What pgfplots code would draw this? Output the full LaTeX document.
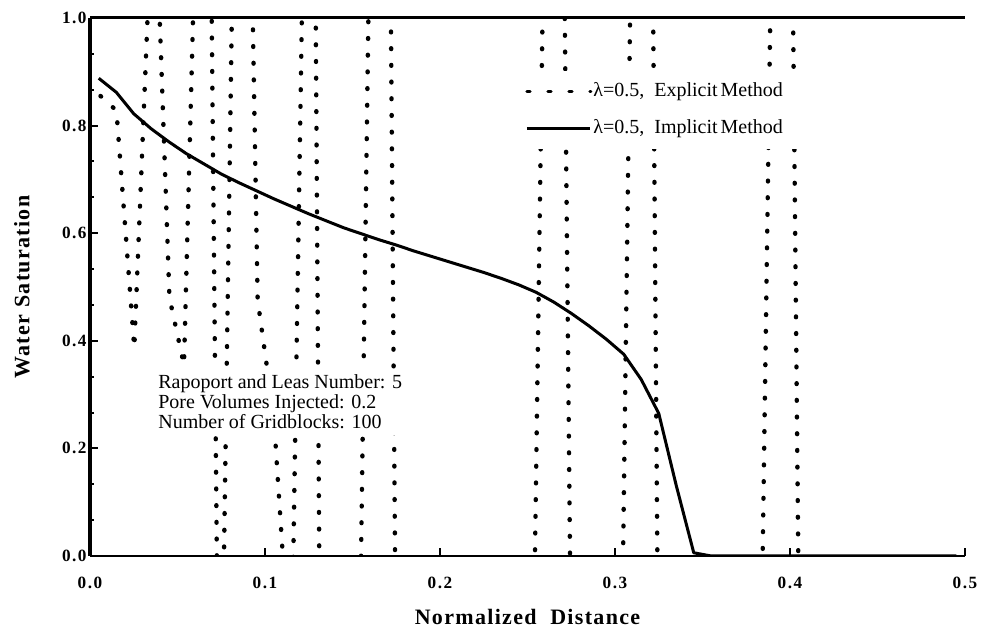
\documentclass[border=0pt]{standalone}
\usepackage{fontspec}
\setmainfont{Liberation Serif}
\newfontfamily\tickfont[LetterSpace=9]{Liberation Serif}
\newfontfamily\labelfont[LetterSpace=6]{Liberation Serif}
\usepackage{pgfplots}
\pgfplotsset{compat=1.18}

\begin{document}
\begin{tikzpicture}
\useasboundingbox (0bp,0bp) rectangle (491.5bp,317bp);
\begin{axis}[
  name=ax,
  at={(45bp,39bp)}, anchor=south west,
  scale only axis, width=437.5bp, height=269bp,
  xmin=0, xmax=0.5, ymin=0, ymax=1,
  axis line style={draw=none},
  xtick={0,0.1,0.2,0.3,0.4,0.5},
  xticklabels={0.0,0.1,0.2,0.3,0.4,0.5},
  ytick={0,0.2,0.4,0.6,0.8,1.0},
  yticklabels={0.0,0.2,0.4,0.6,0.8,1.0},
  xtick pos=left, ytick pos=left,
  tick align=inside,
  major tick length=4bp,
  minor tick length=2bp,
  minor y tick num=2,
  tick style={black, line width=1bp},
  xticklabel style={font=\tickfont\bfseries\fontsize{8.6bp}{10bp}\selectfont,
    anchor=base, inner sep=0pt, yshift=-16.5bp},
  yticklabel style={font=\tickfont\bfseries\fontsize{8.6bp}{10bp}\selectfont,
    anchor=east, inner sep=0pt, xshift=-1.5bp},
  xlabel={Normalized\ \ Distance},
  ylabel={Water Saturation},
  xlabel style={font=\labelfont\bfseries\fontsize{11bp}{13bp}\selectfont,
    at={(axis description cs:0.5,-0.128)}, anchor=base},
  ylabel style={font=\labelfont\bfseries\fontsize{11bp}{13bp}\selectfont,
    at={(axis description cs:-0.0777,0.5)}, anchor=center},
  legend style={draw=none, fill=white,
    at={(axis cs:0.2457,0.903)}, anchor=north west,
    inner xsep=2.5bp, inner ysep=5bp, row sep=8bp,
    font=\fontsize{10bp}{11bp}\selectfont,
    nodes={inner xsep=0.5bp, inner ysep=1bp}},
  legend cell align=left,
  legend image code/.code={\draw[#1] (0bp,0bp) -- (31.5bp,0bp);},
]

% explicit scheme: oscillating saturation profile
\addplot[black, line width=2.2bp, line cap=round, dash pattern=on 0.4bp off 7.95bp,
  legend image code/.code={\draw[black, line width=1.5bp, dash pattern=on 1.6bp off 8.9bp] (0bp,0bp) -- (32bp,0bp);}]
coordinates {
(0.0060,0.855) (0.0151,0.828) (0.0253,0.387) (0.0366,1.30) (0.0454,0.48)
(0.0537,0.355) (0.0667,1.97) (0.0741,-0.55) (0.0865,2.22) (0.0958,0.476)
(0.1050,0.26) (0.1150,-0.24) (0.1267,2.15) (0.1320,-0.5) (0.1528,-0.5)
(0.1673,2.97) (0.1755,-0.5) (0.2521,-0.5) (0.2661,2.74) (0.2758,-0.5)
(0.3026,-0.5) (0.3169,3.06) (0.3254,-0.5) (0.3822,-0.5) (0.3965,2.79)
(0.4062,-0.5)
};
\addlegendentry{λ=0.5,\ \ Explicit\hspace{0.15em}Method\hspace*{12bp}}

% implicit scheme: smooth saturation profile
\addplot[black, line width=1.5bp, line join=round] coordinates {
(0.005,0.888) (0.015,0.862) (0.025,0.822) (0.035,0.794) (0.045,0.770)
(0.055,0.748) (0.065,0.729) (0.075,0.710) (0.085,0.694) (0.095,0.679)
(0.105,0.664) (0.115,0.650) (0.125,0.636) (0.135,0.623) (0.145,0.610)
(0.155,0.599) (0.165,0.588) (0.175,0.578) (0.185,0.567) (0.195,0.557)
(0.205,0.547) (0.215,0.537) (0.225,0.527) (0.235,0.516) (0.245,0.504)
(0.255,0.490) (0.265,0.472) (0.275,0.451) (0.285,0.428) (0.295,0.403)
(0.305,0.375) (0.315,0.328) (0.325,0.265) (0.335,0.131) (0.345,0.006)
(0.355,0.0) (0.375,0.0) (0.400,0.0) (0.450,0.0) (0.495,0.0)
};
\addlegendentry{λ=0.5,\ \ Implicit\hspace{0.15em}Method}

\node[fill=white, anchor=north west, align=left, inner xsep=1bp, inner ysep=3bp,
  font=\fontsize{10bp}{9bp}\selectfont] at (axis cs:0.0377,0.349)
  {Rapoport and Leas Number: 5\\Pore Volumes Injected: 0.2\\Number of Gridblocks: 100};
\end{axis}
% frame: left, top and bottom spines
\draw[line width=2bp] (ax.south west) -- (ax.north west);
\draw[line width=1.5bp] (ax.north west) -- (ax.north east);
\draw[line width=1.3bp] (ax.south west) -- (ax.south east);
\end{tikzpicture}
\end{document}
